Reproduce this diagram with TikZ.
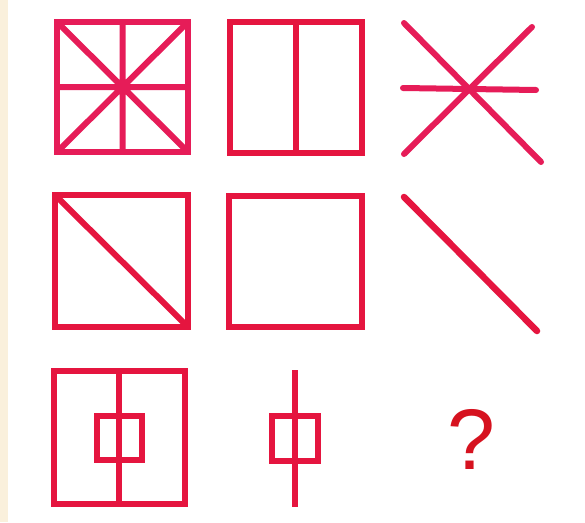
\documentclass[tikz,border=0pt]{standalone}
\usepackage{fontspec}
\setmainfont{Liberation Sans}
\definecolor{figred}{HTML}{E5153F}
\definecolor{figpink}{HTML}{E61C58}
\definecolor{qred}{HTML}{D6121F}
\definecolor{beige}{HTML}{FAF0DC}
\begin{document}
\begin{tikzpicture}[x=1pt,y=-1pt,
  fig/.style={draw=figred,line width=6pt,line join=miter},
  figp/.style={draw=figpink,line width=6pt,line join=miter},
  stroke/.style={draw=figred,line width=6pt,line cap=round}]
\useasboundingbox (0,0) rectangle (585,522);
\fill[white] (0,0) rectangle (585,522);
\fill[beige] (0,0) rectangle (8,522);
% figure 1
\draw[figp] (57,22) rectangle (188,152);
\draw[figp] (57,22) -- (188,152) (188,22) -- (57,152) (122.5,22) -- (122.5,152) (57,87) -- (188,87);
% figure 2
\draw[fig] (230,22) rectangle (362,153);
\draw[fig] (296,22) -- (296,153);
% figure 3
\draw[stroke,draw=figpink] (404,23) -- (541,162);
\draw[stroke,draw=figpink] (532,27) -- (404,154);
\draw[stroke,draw=figpink] (403,88) -- (536,90);
% figure 4
\draw[fig] (55,195) rectangle (188,327);
\draw[fig] (55,195) -- (188,327);
% figure 5
\draw[fig] (229,196) rectangle (362,327);
% figure 6
\draw[stroke,line width=6.5pt] (404,197) -- (537,331);
% figure 7
\draw[fig] (54,371) rectangle (185,504);
\draw[fig] (119,371) -- (119,504);
\draw[fig] (97,416) rectangle (142,460);
% figure 8
\draw[stroke,line cap=butt] (295,370) -- (295,507);
\draw[fig] (272,416) rectangle (318,461);
% figure 9
\node[text=qred,font=\fontsize{86}{86}\selectfont,inner sep=0pt] (q) at (471,439) {?};
\end{tikzpicture}
\end{document}
